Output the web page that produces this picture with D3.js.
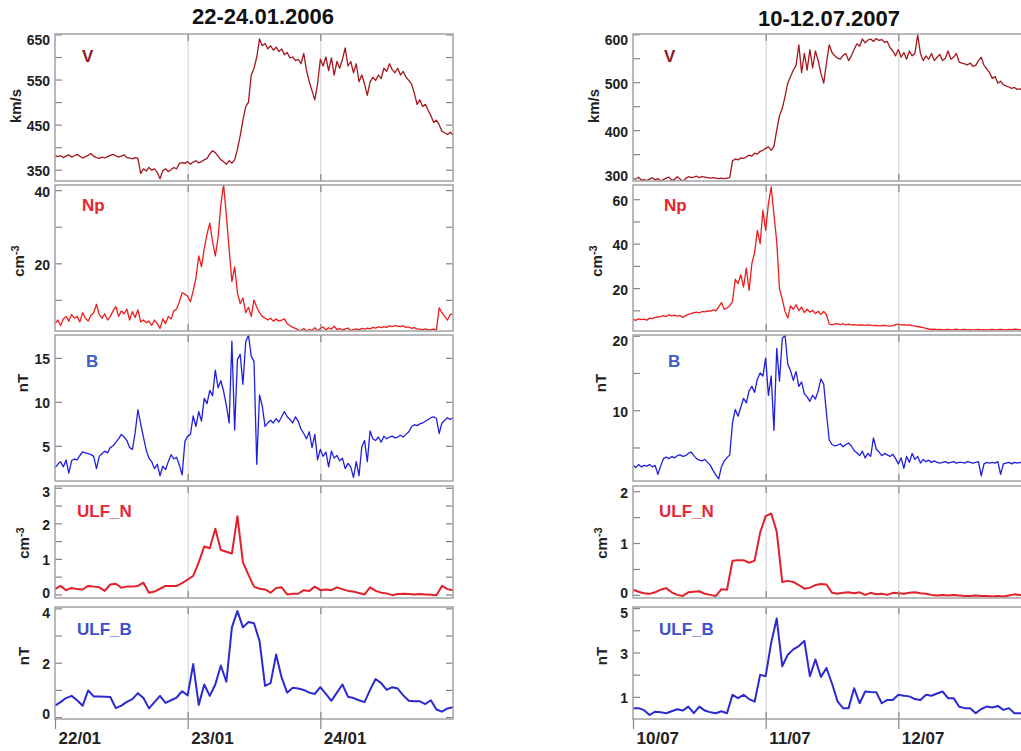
<!DOCTYPE html>
<html>
<head>
<meta charset="utf-8">
<script src="https://cdn.jsdelivr.net/npm/d3@7"></script>
<style>
body { margin: 0; background: #fff; }
text { font-family: "Liberation Sans", Arial, sans-serif; font-weight: bold; }
</style>
</head>
<body>
<script>
// solar wind data, half-hour steps over 3 days (145 values)
var v2006 = [382,379,381,377,380,383,378,381,384,380,376,379,382,386,380,377,375,378,376,379,382,384,381,378,380,383,377,376,374,377,375,
	342,352,347,355,349,352,344,330,348,352,346,350,355,352,364,
	366,364,368,362,367,370,365,368,372,375,
	385,392,388,380,372,368,362,370,365,
	372,395,425,460,490,500,560,575,600,640,
	625,630,618,625,615,622,612,618,605,610,
	598,600,592,595,585,608,570,545,525,505,
	540,595,580,600,570,598,560,590,575,595,
	620,580,590,565,585,545,560,540,515,545,
	555,548,560,552,575,568,585,572,565,575,
	560,568,555,548,540,520,495,505,490,495,
	482,470,455,460,450,435,432,428,433,427];
var np2006 = [3.5,4.5,3,4.8,5.5,4.2,6,5,5.5,4,
	6.5,5,4.2,5.8,6.5,8.8,6,5,6.2,4.5,
	5.5,7,8.2,5.5,7,6.2,7.5,4.5,6.8,5.2,
	7.3,4,4.5,3.8,4.2,3,4.5,3.5,2.2,4.8,
	3.5,5.5,4.8,7,7.5,9.5,12,11.5,11,9.5,
	12.5,16,22,19,24,28,31,26,22,27,
	36,41.5,33,24,15,19,12,9,10.5,6.5,
	8,5.5,10,8,6.5,5.5,5,4.5,5,4.2,
	4.8,4.2,4.5,4.8,3.5,3,2.5,2.2,1.8,1.6,
	2.2,1.5,1.9,1.7,2.4,1.6,2.2,2.6,1.8,2.4,
	2,2.8,1.9,2.2,1.7,2.1,2.3,1.6,1.9,2.1,
	1.8,2.2,2,2.3,2.1,2.5,2.3,2.6,2.4,2.7,
	2.5,2.9,2.7,3,2.8,2.7,2.9,2.5,2.6,2.2,
	2.4,2.1,2,1.9,2.1,1.8,1.9,2,1.8,7.8,
	6.5,5.5,4.5,6,6.2];
var b2006 = [2.5,2.9,3.2,2.6,3.4,1.9,3.3,3.5,3.4,3.9,
	4.3,4.2,4.1,4.0,3.8,2.4,3.8,4.1,4.4,4.2,
	4.8,5.0,5.4,5.8,6.3,6.0,5.6,4.8,4.6,6.5,
	9.1,7.5,6.0,4.5,3.6,3.2,2.4,2.9,1.6,2.7,
	2.3,3.2,4.0,3.5,3.7,2.8,1.7,5.5,6.1,6.3,
	8.4,7.2,8.9,7.8,10.4,9.8,11.3,10.7,13.6,11.6,
	12.4,11.2,9.6,7.6,16.9,6.8,14.8,15.4,12.0,16.8,
	17.6,15.2,14.6,2.9,10.8,9.5,7.2,7.6,7.9,7.6,
	8.1,7.7,8.3,8.9,8.3,8.0,7.6,8.3,7.8,6.9,
	6.4,5.8,6.6,4.8,6.3,3.4,4.6,3.8,4.3,2.6,
	4.4,3.6,3.9,3.3,3.6,2.4,3.0,2.6,1.4,3.2,
	1.6,4.9,5.6,3.2,6.7,5.8,5.6,6.0,5.4,6.1,
	5.8,6.0,6.1,5.9,6.0,6.2,6.0,6.3,6.6,7.2,
	7.4,7.3,7.5,7.6,7.8,8.0,8.2,8.3,8.1,6.4,
	7.6,7.9,8.2,8.0,8.2];
var v2007 = [300,298,302,296,297,295,298,301,296,299,
	294,297,300,302,296,297,303,298,293,299,
	303,301,302,304,301,303,302,301,300,301,
	300,299,300,299,300,301,336,340,338,342,
	341,344,348,346,352,350,356,358,362,365,
	358,366,400,430,445,470,498,512,525,535,
	578,520,560,525,568,530,565,545,518,498,
	540,578,562,555,550,548,556,560,545,555,
	568,580,575,590,582,588,590,585,591,587,
	589,583,585,572,565,555,568,552,562,548,
	565,555,560,598,560,545,555,548,560,545,
	552,558,545,550,565,548,552,560,542,540,
	538,536,540,533,535,545,552,535,528,520,
	508,512,498,502,495,492,490,487,489,485,
	486,484,485,483,484];
var np2007 = [6,5.5,6.2,5.8,6,5.6,6.5,6.3,6.8,7,
	7.2,7.6,7.2,8,7.5,7.8,7.4,7.6,6.8,7.6,
	8.2,8.5,9,9.2,8.8,9.5,9.3,9.8,9.6,10.2,
	9.8,11.5,13.5,10.5,11,12,14,24,22,26,
	20.5,29,19,31,36,46,40,55,46,58,
	65.5,53,41,19.8,15,9.5,6.5,12,10.5,12.5,
	9.8,11.5,9,10.5,9.2,10,8.5,9.6,8.2,9.5,
	8,3.8,3.5,3.8,4,3.6,3.9,3.5,3.8,3.4,
	3.6,3.3,3.5,3.4,3.2,3.5,3.3,3.1,3.2,3.0,
	3.1,3.2,3.0,2.9,3.1,3.6,3.8,3.5,3.6,3.3,
	3.5,3.1,2.9,2.7,2.5,2.2,1.9,1.6,1.4,1.5,
	1.3,1.4,1.2,1.3,1.4,1.2,1.3,1.5,1.2,1.3,
	1.4,1.2,1.3,1.1,1.3,1.4,1.2,1.3,1.1,1.3,
	1.4,1.2,1.3,1.4,1.3,1.2,1.4,1.3,1.5,1.4,
	1.3,1.4,1.3,1.4,1.3];
var b2007 = [2.6,2.3,2.7,2.4,2.6,2.5,2.7,2.4,2.6,1.4,
	2.5,3.5,3.7,3.5,3.8,3.6,3.9,4.0,3.8,3.9,
	4.2,4.4,3.9,3.5,3.3,3.2,3.4,3.0,2.6,1.9,
	1.3,0.8,2.4,3.2,3.6,4.0,8.3,10.1,9.2,10.4,
	11.6,11.0,12.6,13.2,12.4,14.2,15.0,14.6,17.0,12.0,
	14.6,7.3,18.3,13.9,19.6,20.1,16.2,15.3,14.0,15.2,
	13.2,13.8,12.2,11.8,11.2,12.0,11.5,12.6,14.2,13.5,
	9.6,6.0,5.4,5.2,5.3,5.5,5.1,5.4,5.6,5.2,
	4.6,4.3,3.9,4.5,3.6,4.2,3.8,6.3,4.8,4.4,
	3.9,4.2,4.0,3.8,4.1,3.5,2.8,3.6,2.2,3.8,
	3.0,4.2,3.4,3.8,2.9,3.4,3.1,3.3,3.0,3.2,
	3.0,2.9,3.0,3.1,2.9,3.0,3.1,2.9,3.0,3.0,
	2.9,3.1,3.0,2.9,3.0,3.1,1.2,2.8,3.0,2.9,
	3.0,2.9,3.1,1.4,2.8,2.9,3.0,2.8,3.0,2.9,
	3.0,2.9,3.0,2.9,3.0];

// ULF wave power, hourly (73 values)
var ulfN2006 = [0.15,0.24,0.12,0.18,0.15,0.14,0.24,0.22,0.2,0.1,
	0.28,0.3,0.19,0.22,0.22,0.24,0.33,0.05,0.08,0.16,
	0.24,0.24,0.24,0.32,0.42,0.52,0.9,1.35,1.3,1.85,
	1.25,1.2,1.15,2.2,0.9,0.55,0.22,0.16,0.14,0.05,
	0.18,0.2,0.0,0.02,0.02,0.12,0.1,0.22,0.12,0.14,
	0.12,0.2,0.15,0.1,0.08,0.04,0.0,0.2,0.1,0.05,
	0.03,-0.02,0.01,0.02,0.01,0.0,0.01,0.0,-0.01,-0.02,
	0.24,0.15,0.12];
var ulfB2006 = [0.42,0.55,0.7,0.78,0.62,0.42,0.98,0.76,0.76,0.75,
	0.74,0.33,0.42,0.56,0.66,0.88,0.7,0.32,0.55,0.78,
	0.52,0.62,0.72,0.95,0.8,1.95,0.45,1.2,0.78,1.2,
	1.9,1.3,3.3,3.9,3.3,3.5,3.45,2.8,1.15,1.25,
	2.3,1.45,0.9,1.08,1.05,1.0,0.9,0.85,1.1,0.85,
	0.6,0.9,1.2,0.75,0.7,0.62,0.55,1.0,1.4,1.25,
	1.0,1.1,1.05,0.8,0.6,0.58,0.58,0.48,0.62,0.28,
	0.2,0.32,0.36];
var ulfN2007 = [0.1,0.06,0.03,0.02,0.05,0.1,0.13,0.05,0.0,-0.02,
	0.05,0.06,0.07,0.02,0.0,-0.02,0.11,0.1,0.66,0.67,
	0.67,0.62,0.66,1.2,1.52,1.57,1.22,0.25,0.27,0.25,
	0.19,0.12,0.14,0.19,0.21,0.2,0.04,0.02,0.04,0.05,
	0.03,0.05,0.0,0.04,0.01,0.02,0.0,0.04,0.03,0.02,
	0.04,0.05,0.03,0.02,0.0,-0.01,0.0,-0.01,0.0,-0.01,
	-0.02,-0.02,-0.01,-0.02,-0.02,-0.03,-0.02,-0.03,-0.01,0.01,
	0.0,-0.01,0.0];
var ulfB2007 = [0.49,0.49,0.4,0.18,0.33,0.3,0.26,0.35,0.44,0.38,
	0.56,0.26,0.56,0.38,0.3,0.26,0.35,0.26,1.09,0.94,
	1.09,0.9,0.78,1.99,1.93,3.44,4.53,2.38,2.9,3.14,
	3.29,3.52,1.93,2.68,1.9,2.3,1.6,0.8,0.49,0.49,
	1.39,0.71,1.24,1.22,1.21,0.71,0.86,0.86,1.09,1.05,
	1.02,0.9,0.86,1.09,1.05,1.15,1.24,0.94,0.94,0.55,
	0.49,0.48,0.26,0.45,0.56,0.52,0.59,0.41,0.49,0.26,
	0.26,0.26,0.26];

var days2006 = ["22/01", "23/01", "24/01"];
var days2007 = ["10/07", "11/07", "12/07"];
var dayHours = [0, 24, 48];

var totalHours = 72;
var plotWidth = 398;

var rows = [
	{name: "V", unit: "km/s", top: 34, bottom: 181, line: "#a5161d", label: "#8c1a22", lw: 1.3, labelDx: 27, labelY: 62, unitDx: -39, unitY: 106},
	{name: "Np", unit: "cm", sup: "-3", top: 185, bottom: 331, line: "#f01c1c", label: "#e8252b", lw: 1.3, labelDx: 27, labelY: 211, unitDx: -36, unitY: 261},
	{name: "B", unit: "nT", top: 335, bottom: 481, line: "#1f1fe0", label: "#4060c8", lw: 1.3, labelDx: 31, labelY: 367, unitDx: -32, unitY: 383},
	{name: "ULF_N", unit: "cm", sup: "-3", top: 486, bottom: 598, line: "#e3202a", label: "#e2283a", lw: 2, labelDx: 22, labelY: 517, unitDx: -31, unitY: 543},
	{name: "ULF_B", unit: "nT", top: 607, bottom: 719, line: "#2a2ad0", label: "#3d4fcc", lw: 2, labelDx: 22, labelY: 635, unitDx: -31, unitY: 656}
];

var columns = [
	{title: "22-24.01.2006", x0: 55, titleX: 263, titleY: 24, labelShift: 0, days: days2006,
		series: [v2006, np2006, b2006, ulfN2006, ulfB2006],
		domains: [[325, 651], [1.5, 41.4], [1, 17.6], [-0.1, 3.05], [-0.07, 4.05]],
		major: [[350, 450, 550, 650], [20, 40], [5, 10, 15], [0, 1, 2, 3], [0, 2, 4]],
		minor: [[400, 500, 600], [10, 30], [], [0.5, 1.5, 2.5], [1, 3]]},
	{title: "10-12.07.2007", x0: 633, titleX: 829, titleY: 26, labelShift: 4, days: days2007,
		series: [v2007, np2007, b2007, ulfN2007, ulfB2007],
		domains: [[294, 600.5], [0.7, 66.4], [0.5, 20.1], [-0.06, 2.1], [0, 5.05]],
		major: [[300, 400, 500, 600], [20, 40, 60], [10, 20], [0, 1, 2], [1, 3, 5]],
		minor: [[350, 450, 550], [10, 30, 50], [5, 15], [0.5, 1.5], [2, 4]]}
];

var svg = d3.select("body")
	.append("svg")
	.attr("width", 1021)
	.attr("height", 751);

var defs = svg.append("defs");

columns.forEach(function(col, c){
	var x = d3.scaleLinear()
		.domain([0, totalHours])
		.range([col.x0, col.x0 + plotWidth]);

	svg.append("text")
		.attr("x", col.titleX)
		.attr("y", col.titleY)
		.attr("text-anchor", "middle")
		.style("font-size", "22px")
		.style("fill", "#111")
		.text(col.title);

	rows.forEach(function(row, r){
		var y = d3.scaleLinear()
			.domain(col.domains[r])
			.range([row.bottom, row.top]);
		var h = row.bottom - row.top;
		var g = svg.append("g");

		// light day lines
		g.append("g")
			.attr("transform", "translate(0," + row.bottom + ")")
			.call(d3.axisBottom(x).tickValues([24, 48]).tickSize(-h).tickFormat(""))
			.call(function(a){ a.select(".domain").remove(); })
			.selectAll("line")
			.attr("stroke", "#cfcfcf")
			.attr("stroke-width", 1);

		var clipId = "clip" + c + "_" + r;
		defs.append("clipPath")
			.attr("id", clipId)
			.append("rect")
			.attr("x", col.x0)
			.attr("y", row.top)
			.attr("width", plotWidth)
			.attr("height", h);

		var data = col.series[r];
		var step = totalHours / (data.length - 1);
		var line = d3.line()
			.x(function(d, i){ return x(i * step); })
			.y(function(d){ return y(d); });

		g.append("path")
			.datum(data)
			.attr("clip-path", "url(#" + clipId + ")")
			.attr("d", line)
			.attr("fill", "none")
			.attr("stroke", row.line)
			.attr("stroke-width", row.lw)
			.attr("stroke-linejoin", "round");

		// inward ticks
		var tickStyle = function(a){
			a.select(".domain").remove();
			a.selectAll("line").attr("stroke", "#858585").attr("stroke-width", 1.2);
		};
		g.append("g")
			.attr("transform", "translate(0," + row.bottom + ")")
			.call(d3.axisBottom(x).tickValues([24, 48]).tickSize(-7).tickFormat(""))
			.call(tickStyle);
		g.append("g")
			.attr("transform", "translate(0," + row.top + ")")
			.call(d3.axisTop(x).tickValues([24, 48]).tickSize(-7).tickFormat(""))
			.call(tickStyle);

		var yLeft = g.append("g")
			.attr("transform", "translate(" + col.x0 + ",0)")
			.call(d3.axisLeft(y).tickValues(col.major[r]).tickSize(-7).tickPadding(5).tickFormat(d3.format("d")))
			.call(tickStyle);
		yLeft.selectAll("text")
			.attr("dy", "0.42em")
			.attr("y", function(d){
				var p = y(d);
				return Math.max(row.top + 5, Math.min(row.bottom - 6, p)) - p;
			})
			.style("font-size", "14px")
			.style("font-family", "'Liberation Sans', Arial, sans-serif")
			.style("font-weight", "bold")
			.style("fill", "#222");
		g.append("g")
			.attr("transform", "translate(" + col.x0 + ",0)")
			.call(d3.axisLeft(y).tickValues(col.minor[r]).tickSize(-7).tickFormat(""))
			.call(tickStyle);
		g.append("g")
			.attr("transform", "translate(" + (col.x0 + plotWidth) + ",0)")
			.call(d3.axisRight(y).tickValues(col.major[r].concat(col.minor[r])).tickSize(-7).tickFormat(""))
			.call(tickStyle);

		g.append("rect")
			.attr("x", col.x0)
			.attr("y", row.top)
			.attr("width", plotWidth)
			.attr("height", h)
			.attr("fill", "none")
			.attr("stroke", "#a3a3a3")
			.attr("stroke-width", 1.5);

		g.append("text")
			.attr("x", col.x0 + row.labelDx + col.labelShift)
			.attr("y", row.labelY)
			.style("font-size", "17px")
			.style("fill", row.label)
			.text(row.name);

		var unit = g.append("text")
			.attr("transform", "translate(" + (col.x0 + row.unitDx) + "," + row.unitY + ") rotate(-90)")
			.attr("text-anchor", "middle")
			.attr("dy", "0.35em")
			.style("font-size", "15px")
			.style("fill", "#222");
		unit.append("tspan").text(row.unit);
		if (row.sup) {
			unit.append("tspan")
				.attr("dy", "-0.5em")
				.style("font-size", "11px")
				.text(row.sup);
		}
	});

	// date axis under the last panel
	var last = rows[rows.length - 1];
	var xAxis = svg.append("g")
		.attr("transform", "translate(0," + last.bottom + ")")
		.call(d3.axisBottom(x).tickValues(dayHours).tickSize(10).tickFormat(function(d, i){ return col.days[i]; }));
	xAxis.select(".domain").remove();
	xAxis.selectAll("line").attr("stroke", "#858585").attr("stroke-width", 1.2);
	xAxis.selectAll("text")
		.attr("x", 3)
		.attr("y", 25)
		.attr("dy", 0)
		.attr("text-anchor", "start")
		.style("font-size", "17px")
		.style("font-family", "'Liberation Sans', Arial, sans-serif")
		.style("font-weight", "bold")
		.style("fill", "#222");
});
</script>
</body>
</html>
